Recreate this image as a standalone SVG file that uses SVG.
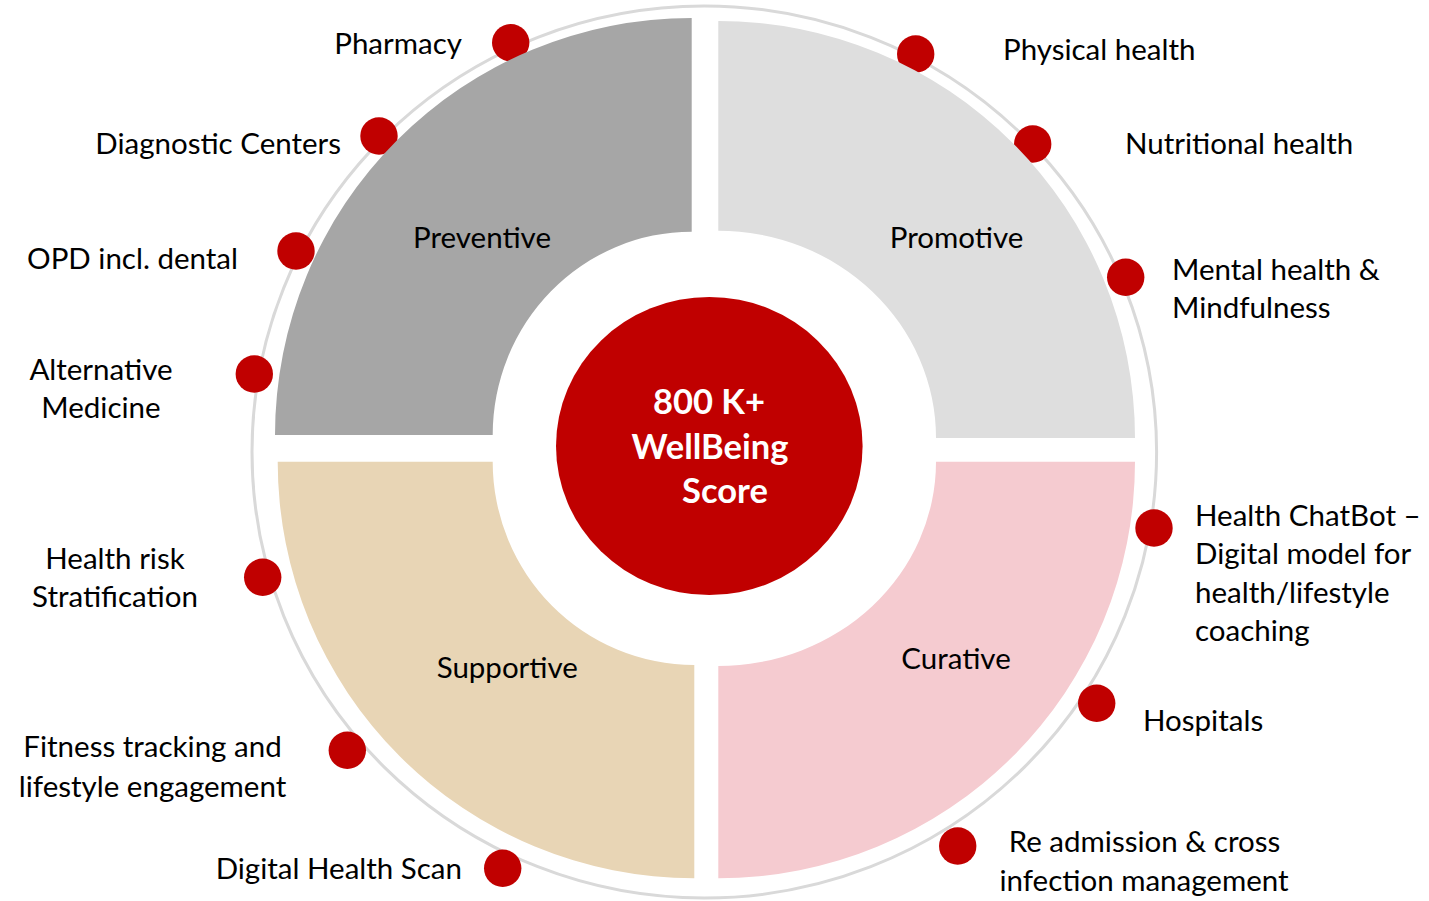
<svg xmlns="http://www.w3.org/2000/svg" width="1429" height="901" viewBox="0 0 1429 901">
<style>
.lbl{font-family:Lato,"Liberation Sans",sans-serif;font-size:29.5px;fill:#000}
.cat{font-family:Lato,"Liberation Sans",sans-serif;font-size:29.5px;fill:#000;text-anchor:middle}
.ctr{font-family:Lato,"Liberation Sans",sans-serif;font-size:34.5px;font-weight:bold;fill:#fff;text-anchor:middle}
.dot{fill:#c00000}
.e{text-anchor:end}
.m{text-anchor:middle}
</style>
<rect width="1429" height="901" fill="#fff"/>
<g id="ring">
<ellipse cx="704.3" cy="452" rx="452.3" ry="446" fill="none" stroke="#d9d9d9" stroke-width="3"/>
</g>
<g id="connectors"></g>
<g id="item-pharmacy"><circle class="dot" cx="510.7" cy="42.7" r="18.7"/><text class="lbl e" x="462" y="53.5">Pharmacy</text></g>
<g id="item-diagnostic"><circle class="dot" cx="379" cy="136" r="18.7"/><text class="lbl e" x="341" y="153.5">Diagnostic Centers</text></g>
<g id="item-opd"><circle class="dot" cx="296" cy="251" r="18.7"/><text class="lbl e" x="238" y="269">OPD incl. dental</text></g>
<g id="item-alternative"><circle class="dot" cx="254.3" cy="374" r="18.7"/><text class="lbl m" x="101" y="380">Alternative</text><text class="lbl m" x="101" y="418">Medicine</text></g>
<g id="item-healthrisk"><circle class="dot" cx="262.7" cy="577.3" r="18.7"/><text class="lbl m" x="115" y="569">Health risk</text><text class="lbl m" x="115" y="607">Stratification</text></g>
<g id="item-fitness"><circle class="dot" cx="347.3" cy="750.3" r="18.7"/><text class="lbl m" x="152.5" y="757">Fitness tracking and</text><text class="lbl m" x="152.5" y="796.5">lifestyle engagement</text></g>
<g id="item-digitalscan"><circle class="dot" cx="502.7" cy="868.3" r="18.7"/><text class="lbl e" x="462" y="878.5">Digital Health Scan</text></g>
<g id="item-physical"><circle class="dot" cx="915.7" cy="54" r="18.7"/><text class="lbl" x="1003" y="60">Physical health</text></g>
<g id="item-nutritional"><circle class="dot" cx="1032.7" cy="144" r="18.7"/><text class="lbl" x="1125" y="153.5">Nutritional health</text></g>
<g id="item-mental"><circle class="dot" cx="1125.7" cy="277.3" r="18.7"/><text class="lbl" x="1172" y="280">Mental health &amp;</text><text class="lbl" x="1172" y="318">Mindfulness</text></g>
<g id="item-chatbot"><circle class="dot" cx="1154" cy="528" r="18.7"/><text class="lbl" x="1195" y="526">Health ChatBot –</text><text class="lbl" x="1195" y="564">Digital model for</text><text class="lbl" x="1195" y="602.5">health/lifestyle</text><text class="lbl" x="1195" y="641">coaching</text></g>
<g id="item-hospitals"><circle class="dot" cx="1096.7" cy="703.3" r="18.7"/><text class="lbl" x="1143" y="731">Hospitals</text></g>
<g id="item-readmission"><circle class="dot" cx="957.7" cy="846" r="18.7"/><text class="lbl m" x="1144.5" y="852">Re admission &amp; cross</text><text class="lbl m" x="1144" y="890.5">infection management</text></g>
<g id="preventive"><path d="M691.7 18 L691.7 231.7 A199 203.3 0 0 0 492.7 435 L275 435 A416.7 417 0 0 1 691.7 18 Z" fill="#a6a6a6"/><text class="cat" x="482" y="247.5">Preventive</text></g>
<g id="promotive"><path d="M718.3 21 A416.7 417 0 0 1 1135 438 L936 438 A217.7 207.3 0 0 0 718.3 230.7 Z" fill="#dedede"/><text class="cat" x="956.5" y="247.5">Promotive</text></g>
<g id="supportive"><path d="M277.7 461.7 L492.7 461.7 A201.6 203.3 0 0 0 694.3 665 L694.3 878.3 A416.6 416.6 0 0 1 277.7 461.7 Z" fill="#e8d5b5"/><text class="cat" x="507.3" y="677.5">Supportive</text></g>
<g id="curative"><path d="M936 461.7 L1135 461.7 A416.7 416.6 0 0 1 718.3 878.3 L718.3 666 A217.7 204.3 0 0 0 936 461.7 Z" fill="#f5cbd0"/><text class="cat" x="956" y="668.5">Curative</text></g>
<g id="center"><ellipse cx="709.3" cy="446" rx="153.3" ry="149" fill="#c00000"/><text class="ctr" x="709" y="413.5">800 K+</text><text class="ctr" x="710" y="458.5">WellBeing</text><text class="ctr" x="725" y="503">Score</text></g>
</svg>
